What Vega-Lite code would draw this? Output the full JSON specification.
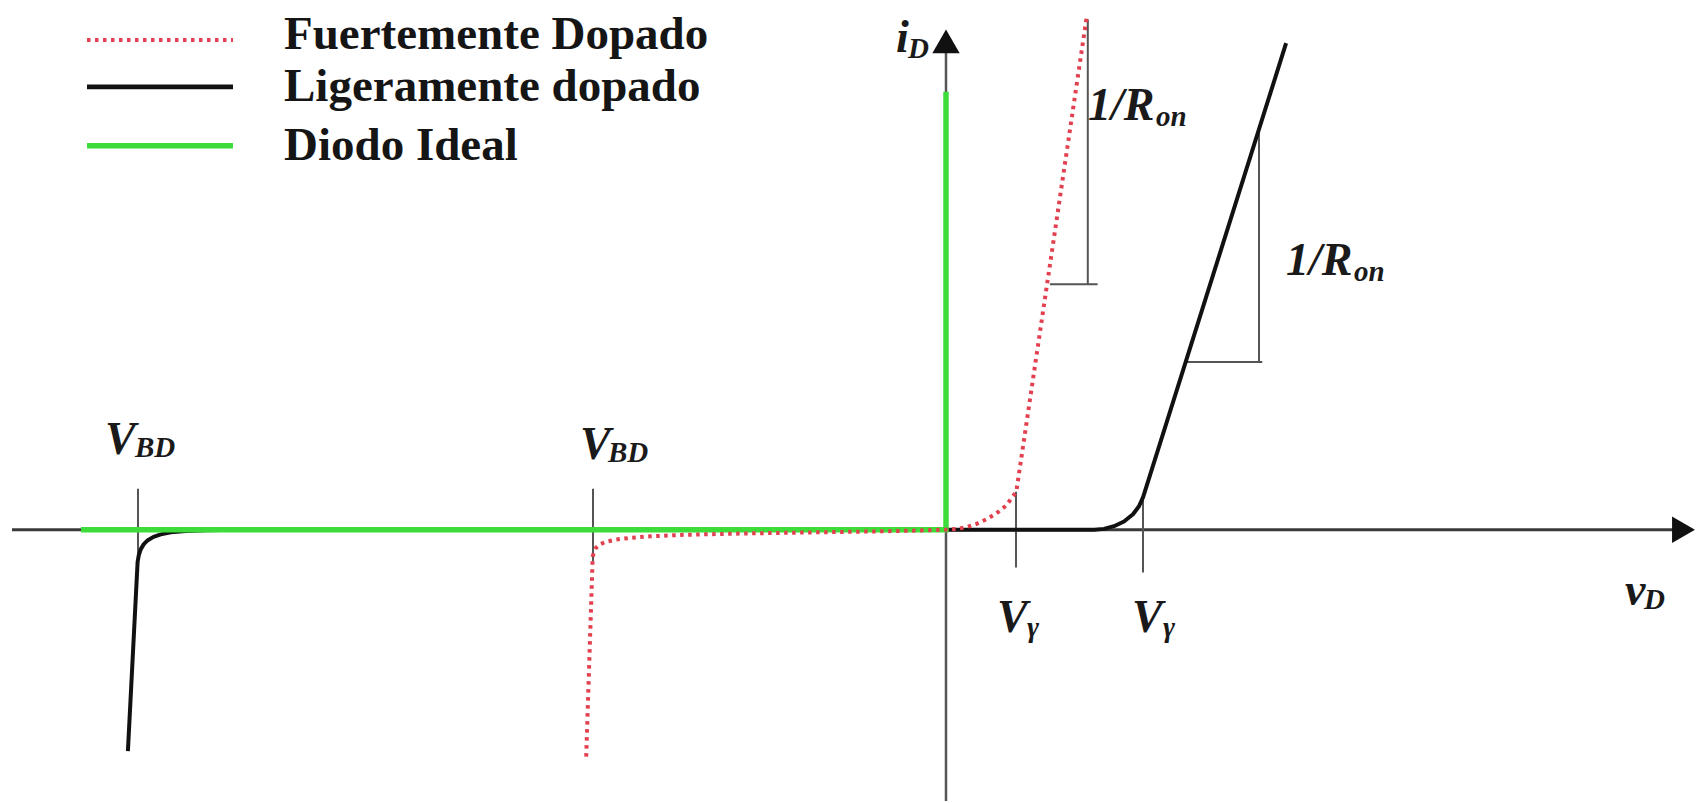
{
  "$schema": "https://vega.github.io/schema/vega-lite/v6.json",
  "width": 1699,
  "height": 803,
  "padding": 0,
  "autosize": {"type": "fit", "contains": "padding"},
  "background": "white",
  "config": {"view": {"stroke": null}},
  "datasets": {
    "ejes": [
      {"eje": "vD", "x": -9.34, "x2": 7.40, "y": 0, "y2": 0},
      {"eje": "iD", "x": 0, "x2": 0, "y": -2.72, "y2": 4.85}
    ],
    "guias": [
      {"guia": "VBD ligero", "x": -8.08, "x2": -8.08, "y": 0.41, "y2": -0.32},
      {"guia": "VBD fuerte", "x": -3.53, "x2": -3.53, "y": 0.41, "y2": -0.32},
      {"guia": "Vgamma fuerte", "x": 0.70, "x2": 0.70, "y": 0.38, "y2": -0.38},
      {"guia": "Vgamma ligero", "x": 1.97, "x2": 1.97, "y": 0.33, "y2": -0.43},
      {"guia": "pendiente fuerte v", "x": 1.418, "x2": 1.418, "y": 2.46, "y2": 5.115},
      {"guia": "pendiente fuerte h", "x": 1.039, "x2": 1.516, "y": 2.46, "y2": 2.46},
      {"guia": "pendiente ligero v", "x": 3.13, "x2": 3.13, "y": 1.68, "y2": 4.03},
      {"guia": "pendiente ligero h", "x": 2.404, "x2": 3.163, "y": 1.68, "y2": 1.68}
    ],
    "ideal": [
      {"orden": 1, "v": -8.65, "i": 0},
      {"orden": 2, "v": 0, "i": 0},
      {"orden": 3, "v": 0, "i": 4.39}
    ],
    "ligero": [
      {"orden": 1, "v": -8.181, "i": -2.22},
      {"orden": 2, "v": -8.084, "i": -0.324},
      {"orden": 3, "v": -8.072, "i": -0.255},
      {"orden": 4, "v": -8.052, "i": -0.195},
      {"orden": 5, "v": -8.022, "i": -0.145},
      {"orden": 6, "v": -7.982, "i": -0.105},
      {"orden": 7, "v": -7.925, "i": -0.072},
      {"orden": 8, "v": -7.852, "i": -0.047},
      {"orden": 9, "v": -7.752, "i": -0.027},
      {"orden": 10, "v": -7.602, "i": -0.013},
      {"orden": 11, "v": -7.402, "i": -0.005},
      {"orden": 12, "v": -7.10, "i": 0},
      {"orden": 13, "v": 0, "i": 0},
      {"orden": 14, "v": 1.483, "i": 0},
      {"orden": 15, "v": 1.58, "i": 0.008},
      {"orden": 16, "v": 1.68, "i": 0.035},
      {"orden": 17, "v": 1.78, "i": 0.082},
      {"orden": 18, "v": 1.87, "i": 0.155},
      {"orden": 19, "v": 1.93, "i": 0.235},
      {"orden": 20, "v": 1.971, "i": 0.326},
      {"orden": 21, "v": 3.401, "i": 4.877}
    ],
    "fuerte": [
      {"orden": 1, "v": -3.598, "i": -2.275},
      {"orden": 2, "v": -3.533, "i": -0.270},
      {"orden": 3, "v": -3.520, "i": -0.222},
      {"orden": 4, "v": -3.500, "i": -0.182},
      {"orden": 5, "v": -3.462, "i": -0.147},
      {"orden": 6, "v": -3.400, "i": -0.121},
      {"orden": 7, "v": -3.300, "i": -0.099},
      {"orden": 8, "v": -3.150, "i": -0.081},
      {"orden": 9, "v": -2.950, "i": -0.066},
      {"orden": 10, "v": -2.600, "i": -0.051},
      {"orden": 11, "v": -2.000, "i": -0.038},
      {"orden": 12, "v": -1.400, "i": -0.028},
      {"orden": 13, "v": -0.800, "i": -0.019},
      {"orden": 14, "v": -0.300, "i": -0.009},
      {"orden": 15, "v": 0, "i": 0},
      {"orden": 16, "v": 0.100, "i": 0.006},
      {"orden": 17, "v": 0.200, "i": 0.024},
      {"orden": 18, "v": 0.300, "i": 0.056},
      {"orden": 19, "v": 0.400, "i": 0.102},
      {"orden": 20, "v": 0.500, "i": 0.160},
      {"orden": 21, "v": 0.600, "i": 0.240},
      {"orden": 22, "v": 0.703, "i": 0.380},
      {"orden": 23, "v": 1.408, "i": 5.147}
    ],
    "leyenda_lineas": [
      {"serie": "Fuertemente Dopado", "x": -8.59, "x2": -7.13, "y": 4.91},
      {"serie": "Ligeramente dopado", "x": -8.59, "x2": -7.13, "y": 4.44},
      {"serie": "Diodo Ideal", "x": -8.59, "x2": -7.13, "y": 3.85}
    ],
    "leyenda_textos": [
      {"texto": "Fuertemente Dopado", "x": -6.62, "y": 4.82},
      {"texto": "Ligeramente dopado", "x": -6.62, "y": 4.30},
      {"texto": "Diodo Ideal", "x": -6.62, "y": 3.71}
    ],
    "simbolos": [
      {"texto": "i", "x": -0.50, "y": 4.79},
      {"texto": "v", "x": 6.79, "y": -0.76},
      {"texto": "V", "x": -8.41, "y": 0.76},
      {"texto": "V", "x": -3.66, "y": 0.71},
      {"texto": "V", "x": 0.51, "y": -1.03},
      {"texto": "V", "x": 1.86, "y": -1.03},
      {"texto": "1/R", "x": 1.42, "y": 4.11},
      {"texto": "1/R", "x": 3.40, "y": 2.55}
    ],
    "subindices": [
      {"texto": "D", "x": -0.38, "y": 4.73},
      {"texto": "D", "x": 6.98, "y": -0.80},
      {"texto": "BD", "x": -8.11, "y": 0.73},
      {"texto": "BD", "x": -3.38, "y": 0.68},
      {"texto": "γ", "x": 0.81, "y": -1.08},
      {"texto": "γ", "x": 2.17, "y": -1.08},
      {"texto": "on", "x": 2.10, "y": 4.05},
      {"texto": "on", "x": 4.08, "y": 2.49}
    ]
  },
  "layer": [
    {
      "data": {"name": "ejes"},
      "transform": [{"filter": "datum.eje == 'vD'"}],
      "mark": {"type": "rule", "color": "#3a3a3a", "strokeWidth": 3},
      "encoding": {
        "x": {"field": "x", "type": "quantitative", "scale": {"domain": [-9.46, 7.53], "nice": false, "zero": false}, "axis": null},
        "x2": {"field": "x2"},
        "y": {"field": "y", "type": "quantitative", "scale": {"domain": [-2.72, 5.31], "nice": false, "zero": false}, "axis": null},
        "y2": {"field": "y2"}
      }
    },
    {
      "data": {"name": "ejes"},
      "transform": [{"filter": "datum.eje == 'iD'"}],
      "mark": {"type": "rule", "color": "#555555", "strokeWidth": 2.5},
      "encoding": {
        "x": {"field": "x", "type": "quantitative"},
        "x2": {"field": "x2"},
        "y": {"field": "y", "type": "quantitative"},
        "y2": {"field": "y2"}
      }
    },
    {
      "data": {"values": [{"x": 7.375, "y": 0}]},
      "mark": {"type": "point", "shape": "triangle-right", "filled": true, "color": "#111111", "opacity": 1, "size": 700},
      "encoding": {
        "x": {"field": "x", "type": "quantitative"},
        "y": {"field": "y", "type": "quantitative"}
      }
    },
    {
      "data": {"values": [{"x": 0, "y": 4.895}]},
      "mark": {"type": "point", "shape": "triangle-up", "filled": true, "color": "#111111", "opacity": 1, "size": 750},
      "encoding": {
        "x": {"field": "x", "type": "quantitative"},
        "y": {"field": "y", "type": "quantitative"}
      }
    },
    {
      "data": {"name": "guias"},
      "mark": {"type": "rule", "color": "#555555", "strokeWidth": 2},
      "encoding": {
        "x": {"field": "x", "type": "quantitative"},
        "x2": {"field": "x2"},
        "y": {"field": "y", "type": "quantitative"},
        "y2": {"field": "y2"}
      }
    },
    {
      "data": {"name": "ligero"},
      "mark": {"type": "line", "color": "#111111", "strokeWidth": 4, "strokeJoin": "round"},
      "encoding": {
        "x": {"field": "v", "type": "quantitative"},
        "y": {"field": "i", "type": "quantitative"},
        "order": {"field": "orden", "type": "quantitative"}
      }
    },
    {
      "data": {"name": "ideal"},
      "mark": {"type": "line", "color": "#3ddc3a", "strokeWidth": 5.5},
      "encoding": {
        "x": {"field": "v", "type": "quantitative"},
        "y": {"field": "i", "type": "quantitative"},
        "order": {"field": "orden", "type": "quantitative"}
      }
    },
    {
      "data": {"name": "fuerte"},
      "mark": {"type": "line", "color": "#e3404f", "strokeWidth": 4, "strokeDash": [3.5, 4.5]},
      "encoding": {
        "x": {"field": "v", "type": "quantitative"},
        "y": {"field": "i", "type": "quantitative"},
        "order": {"field": "orden", "type": "quantitative"}
      }
    },
    {
      "data": {"name": "leyenda_lineas"},
      "mark": {"type": "rule"},
      "encoding": {
        "x": {"field": "x", "type": "quantitative"},
        "x2": {"field": "x2"},
        "y": {"field": "y", "type": "quantitative"},
        "color": {"field": "serie", "type": "nominal", "scale": {"domain": ["Fuertemente Dopado", "Ligeramente dopado", "Diodo Ideal"], "range": ["#e3404f", "#111111", "#3ddc3a"]}, "legend": null},
        "strokeDash": {"field": "serie", "type": "nominal", "scale": {"domain": ["Fuertemente Dopado", "Ligeramente dopado", "Diodo Ideal"], "range": [[3.5, 4.5], [1, 0], [1, 0]]}, "legend": null},
        "size": {"field": "serie", "type": "nominal", "scale": {"domain": ["Fuertemente Dopado", "Ligeramente dopado", "Diodo Ideal"], "range": [4, 5.5, 6.5]}, "legend": null}
      }
    },
    {
      "data": {"name": "leyenda_textos"},
      "mark": {"type": "text", "align": "left", "baseline": "alphabetic", "font": "Liberation Serif", "fontWeight": "bold", "fontSize": 47, "color": "#151515"},
      "encoding": {
        "x": {"field": "x", "type": "quantitative"},
        "y": {"field": "y", "type": "quantitative"},
        "text": {"field": "texto"}
      }
    },
    {
      "data": {"name": "simbolos"},
      "mark": {"type": "text", "align": "left", "baseline": "alphabetic", "font": "Liberation Serif", "fontWeight": "bold", "fontStyle": "italic", "fontSize": 46, "color": "#1a1a1a"},
      "encoding": {
        "x": {"field": "x", "type": "quantitative"},
        "y": {"field": "y", "type": "quantitative"},
        "text": {"field": "texto"}
      }
    },
    {
      "data": {"name": "subindices"},
      "mark": {"type": "text", "align": "left", "baseline": "alphabetic", "font": "Liberation Serif", "fontWeight": "bold", "fontStyle": "italic", "fontSize": 29, "color": "#1a1a1a"},
      "encoding": {
        "x": {"field": "x", "type": "quantitative"},
        "y": {"field": "y", "type": "quantitative"},
        "text": {"field": "texto"}
      }
    }
  ]
}
